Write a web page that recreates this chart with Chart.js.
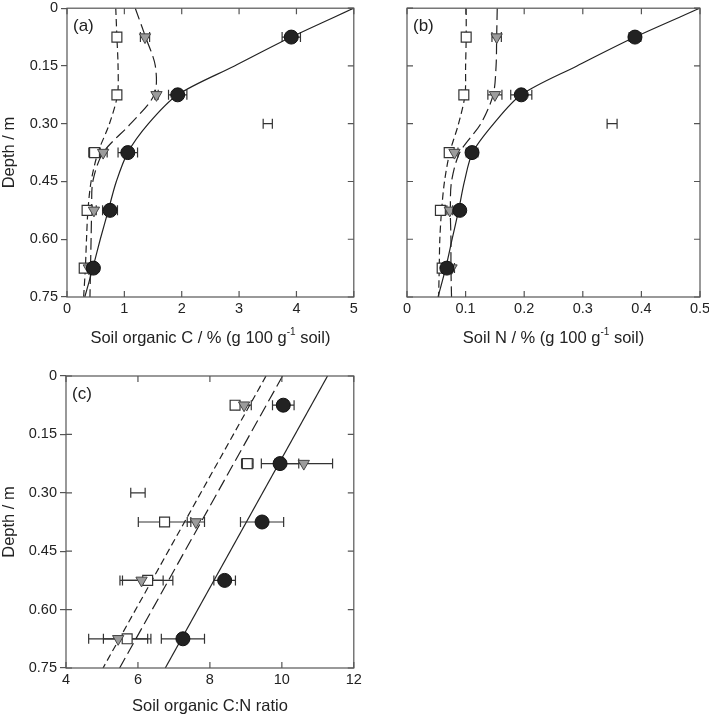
<!DOCTYPE html>
<html>
<head>
<meta charset="utf-8">
<script src="https://cdn.jsdelivr.net/npm/chart.js@4.4.1/dist/chart.umd.min.js"></script>
<style>
html, body { margin: 0; padding: 0; background: #fff; }
#wrap { position: relative; width: 709px; height: 718px; overflow: hidden; }
canvas { position: absolute; }
</style>
</head>
<body>
<div id="wrap">
    <canvas id="chartA" width="362" height="350" style="left:0;top:0;width:362px;height:350px"></canvas>
    <canvas id="chartB" width="349" height="350" style="left:360px;top:0;width:349px;height:350px"></canvas>
    <canvas id="chartC" width="362" height="358" style="left:0;top:360px;width:362px;height:358px"></canvas>
</div>
<script>
// sampling depths (m) and axis ticks
var depths = [0.075, 0.225, 0.375, 0.525, 0.675];
var depthTicks = [0, 0.15, 0.30, 0.45, 0.60, 0.75];
var fitDepths = [0, 0.075, 0.15, 0.225, 0.30, 0.375, 0.45, 0.525, 0.60, 0.675, 0.75];
var lineDepths = [0, 0.75];

// (a) soil organic C
var cTicks = [0, 1, 2, 3, 4, 5];
var cCircle = [3.91, 1.93, 1.06, 0.75, 0.46];
var cCircleErr = [0.16, 0.16, 0.17, 0.13, 0.05];
var cTriangle = [1.36, 1.56, 0.63, 0.47, 0.38];
var cTriangleErr = [0.08, 0.03, 0.07, 0.04, 0.04];
var cSquare = [0.87, 0.87, 0.48, 0.35, 0.30];
var cSquareErr = [0.03, 0.04, 0.10, 0.06, 0.06];
var cLsd = [3.5, 0.30, 0.08];
var cCircleFit = [5.0, 3.91, 2.92, 1.93, 1.42, 1.06, 0.86, 0.72, 0.58, 0.45, 0.31];
var cTriangleFit = [1.19, 1.37, 1.54, 1.52, 1.11, 0.63, 0.45, 0.43, 0.42, 0.41, 0.40];
var cSquareFit = [0.85, 0.87, 0.89, 0.88, 0.74, 0.54, 0.42, 0.365, 0.34, 0.32, 0.29];

// (b) soil N
var nTicks = [0, 0.1, 0.2, 0.3, 0.4, 0.5];
var nCircle = [0.389, 0.195, 0.111, 0.090, 0.068];
var nCircleErr = [0.010, 0.018, 0.010, 0.008, 0.005];
var nTriangle = [0.153, 0.150, 0.081, 0.073, 0.076];
var nTriangleErr = [0.008, 0.012, 0.006, 0.005, 0.005];
var nSquare = [0.101, 0.097, 0.072, 0.057, 0.060];
var nSquareErr = [0.003, 0.004, 0.007, 0.004, 0.007];
var nLsd = [0.35, 0.30, 0.0085];
var nCircleFit = [0.50, 0.389, 0.290, 0.195, 0.148, 0.112, 0.098, 0.088, 0.077, 0.066, 0.053];
var nTriangleFit = [0.154, 0.153, 0.152, 0.147, 0.126, 0.090, 0.076, 0.074, 0.075, 0.075, 0.076];
var nSquareFit = [0.101, 0.101, 0.100, 0.099, 0.088, 0.073, 0.064, 0.059, 0.056, 0.055, 0.054];

// (c) C:N ratio
var rTicks = [4, 6, 8, 10, 12];
var rCircle = [10.04, 9.95, 9.45, 8.41, 7.25];
var rCircleErr = [0.30, 0.52, 0.60, 0.30, 0.60];
var rTriangle = [8.95, 10.61, 7.61, 6.10, 5.45];
var rTriangleErr = [0.20, 0.80, 0.24, 0.60, 0.82];
var rSquare = [8.70, 9.04, 6.74, 6.27, 5.70];
var rSquareErr = [0.12, 0.16, 0.73, 0.70, 0.66];
var rLsd = [6.0, 0.30, 0.2];
var rCircleFit = [11.27, 6.76];
var rTriangleFit = [10.02, 5.49];
var rSquareFit = [9.56, 5.03];

var FONT = "'Liberation Sans', Arial, sans-serif";
var INK = '#222';
var FRAME = '#555';

function pts(xs, ys) {
    return xs.map(function (v, i) { return {x: v, y: ys[i]}; });
}

function markerSets(circle, triangle, square) {
    return [
        {data: pts(circle, depths), pointStyle: 'circle', pointRadius: 7, backgroundColor: '#222', borderColor: '#111', borderWidth: 1, showLine: false},
        {data: pts(triangle, depths), pointStyle: 'triangle', rotation: 180, pointRadius: 6.5, backgroundColor: '#9c9c9c', borderColor: '#444', borderWidth: 1, showLine: false},
        {data: pts(square, depths), pointStyle: 'rect', pointRadius: 7, backgroundColor: '#fff', borderColor: '#333', borderWidth: 1.2, showLine: false}
    ];
}

function fitSets(ds, solid, longDash, shortDash, tension) {
    var base = {showLine: true, pointRadius: 0, borderColor: INK, borderWidth: 1.2, tension: tension, fill: false};
    return [
        Object.assign({}, base, {data: pts(solid, ds)}),
        Object.assign({}, base, {data: pts(longDash, ds), borderDash: [12, 5]}),
        Object.assign({}, base, {data: pts(shortDash, ds), borderDash: [7, 4]})
    ];
}

// error bars, frame, inward ticks, panel letter and x title
function panelDeco(cfg) {
    return {
        id: 'deco',
        beforeDatasetsDraw: function (chart) {
            var ctx = chart.ctx, sx = chart.scales.x, sy = chart.scales.y;
            ctx.save();
            ctx.strokeStyle = '#333';
            ctx.lineWidth = 1.2;
            function bar(v, d, e) {
                var py = sy.getPixelForValue(d);
                var x0 = sx.getPixelForValue(v - e), x1 = sx.getPixelForValue(v + e);
                ctx.beginPath();
                ctx.moveTo(x0, py); ctx.lineTo(x1, py);
                ctx.moveTo(x0, py - 5); ctx.lineTo(x0, py + 5);
                ctx.moveTo(x1, py - 5); ctx.lineTo(x1, py + 5);
                ctx.stroke();
            }
            cfg.errors.forEach(function (s) {
                s[0].forEach(function (v, i) { bar(v, depths[i], s[1][i]); });
            });
            bar(cfg.lsd[0], cfg.lsd[1], cfg.lsd[2]);
            ctx.restore();
        },
        afterDraw: function (chart) {
            var ctx = chart.ctx, a = chart.chartArea, sx = chart.scales.x, sy = chart.scales.y;
            ctx.save();
            ctx.strokeStyle = FRAME;
            ctx.lineWidth = 1.2;
            ctx.strokeRect(a.left, a.top, a.right - a.left, a.bottom - a.top);
            ctx.beginPath();
            cfg.xTicks.forEach(function (v) {
                var px = sx.getPixelForValue(v);
                ctx.moveTo(px, a.top); ctx.lineTo(px, a.top + 6);
                ctx.moveTo(px, a.bottom); ctx.lineTo(px, a.bottom - 6);
            });
            depthTicks.forEach(function (v) {
                var py = sy.getPixelForValue(v);
                ctx.moveTo(a.right, py); ctx.lineTo(a.right - 6, py);
                if (cfg.leftIn) { ctx.moveTo(a.left, py); ctx.lineTo(a.left + 6, py); }
            });
            ctx.stroke();

            ctx.fillStyle = INK;
            ctx.textBaseline = 'middle';
            ctx.textAlign = 'left';
            ctx.font = '17px ' + FONT;
            ctx.fillText(cfg.letter, a.left + 6, a.top + 18);

            // x title, with superscript pieces
            var big = '16.5px ' + FONT, small = '10px ' + FONT;
            var total = 0;
            cfg.title.forEach(function (p) {
                ctx.font = p[1] ? small : big;
                total += ctx.measureText(p[0]).width;
            });
            var x = (a.left + a.right) / 2 - total / 2;
            cfg.title.forEach(function (p) {
                ctx.font = p[1] ? small : big;
                ctx.fillText(p[0], x, cfg.titleY - (p[1] ? 6 : 0));
                x += ctx.measureText(p[0]).width;
            });
            ctx.restore();
        }
    };
}

function makeChart(id, cfg) {
    var ctx = document.getElementById(id).getContext('2d');
    return new Chart(ctx, {
        type: 'scatter',
        data: {
            datasets: markerSets(cfg.circle, cfg.triangle, cfg.square)
                .concat(fitSets(cfg.fitDepths, cfg.fits[0], cfg.fits[1], cfg.fits[2], cfg.tension))
        },
        options: {
            responsive: false,
            animation: false,
            layout: {padding: cfg.padding},
            plugins: {legend: {display: false}, tooltip: {enabled: false}},
            scales: {
                x: {
                    type: 'linear',
                    min: cfg.xTicks[0],
                    max: cfg.xTicks[cfg.xTicks.length - 1],
                    afterBuildTicks: function (s) { s.ticks = cfg.xTicks.map(function (v) { return {value: v}; }); },
                    afterFit: function (s) { s.height = cfg.xHeight; s.paddingLeft = 0; s.paddingRight = 0; },
                    grid: {display: false, drawTicks: false},
                    border: {display: false},
                    ticks: {
                        padding: 3, color: INK, font: {family: FONT, size: 14.5}, maxRotation: 0,
                        callback: function (v) { return String(+v.toFixed(2)); }
                    }
                },
                y: {
                    type: 'linear',
                    reverse: true,
                    min: 0,
                    max: 0.75,
                    afterBuildTicks: function (s) { s.ticks = depthTicks.map(function (v) { return {value: v}; }); },
                    afterFit: function (s) { s.width = cfg.yWidth; s.paddingTop = 0; s.paddingBottom = 0; },
                    grid: {display: cfg.yLabels, drawOnChartArea: false, drawTicks: true, tickLength: 6, color: FRAME, lineWidth: 1.2},
                    border: {display: false},
                    title: {display: cfg.yLabels, text: 'Depth / m', color: INK, font: {family: FONT, size: 16.5}, padding: 0},
                    ticks: {
                        display: cfg.yLabels, padding: 3, color: INK, font: {family: FONT, size: 14.5},
                        callback: function (v) { return v === 0 ? '0' : v.toFixed(2); }
                    }
                }
            }
        },
        plugins: [panelDeco(cfg)]
    });
}

makeChart('chartA', {
    circle: cCircle, triangle: cTriangle, square: cSquare,
    errors: [[cCircle, cCircleErr], [cTriangle, cTriangleErr], [cSquare, cSquareErr]],
    lsd: cLsd, fitDepths: fitDepths, fits: [cCircleFit, cTriangleFit, cSquareFit], tension: 0.3,
    xTicks: cTicks, yLabels: true, yWidth: 67, xHeight: 53,
    padding: {left: 0, top: 4, right: 4, bottom: 0},
    letter: '(a)', leftIn: false, titleY: 338,
    title: [['Soil organic C / % (g 100 g', 0], ['-1', 1], [' soil)', 0]]
});

makeChart('chartB', {
    circle: nCircle, triangle: nTriangle, square: nSquare,
    errors: [[nCircle, nCircleErr], [nTriangle, nTriangleErr], [nSquare, nSquareErr]],
    lsd: nLsd, fitDepths: fitDepths, fits: [nCircleFit, nTriangleFit, nSquareFit], tension: 0.3,
    xTicks: nTicks, yLabels: false, yWidth: 47, xHeight: 53,
    padding: {left: 0, top: 4, right: 9, bottom: 0},
    letter: '(b)', leftIn: true, titleY: 338,
    title: [['Soil N / % (g 100 g', 0], ['-1', 1], [' soil)', 0]]
});

makeChart('chartC', {
    circle: rCircle, triangle: rTriangle, square: rSquare,
    errors: [[rCircle, rCircleErr], [rTriangle, rTriangleErr], [rSquare, rSquareErr]],
    lsd: rLsd, fitDepths: lineDepths, fits: [rCircleFit, rTriangleFit, rSquareFit], tension: 0,
    xTicks: rTicks, yLabels: true, yWidth: 66, xHeight: 50,
    padding: {left: 0, top: 16, right: 3, bottom: 0},
    letter: '(c)', leftIn: true, titleY: 346,
    title: [['Soil organic C:N ratio', 0]]
});
</script>
</body>
</html>
